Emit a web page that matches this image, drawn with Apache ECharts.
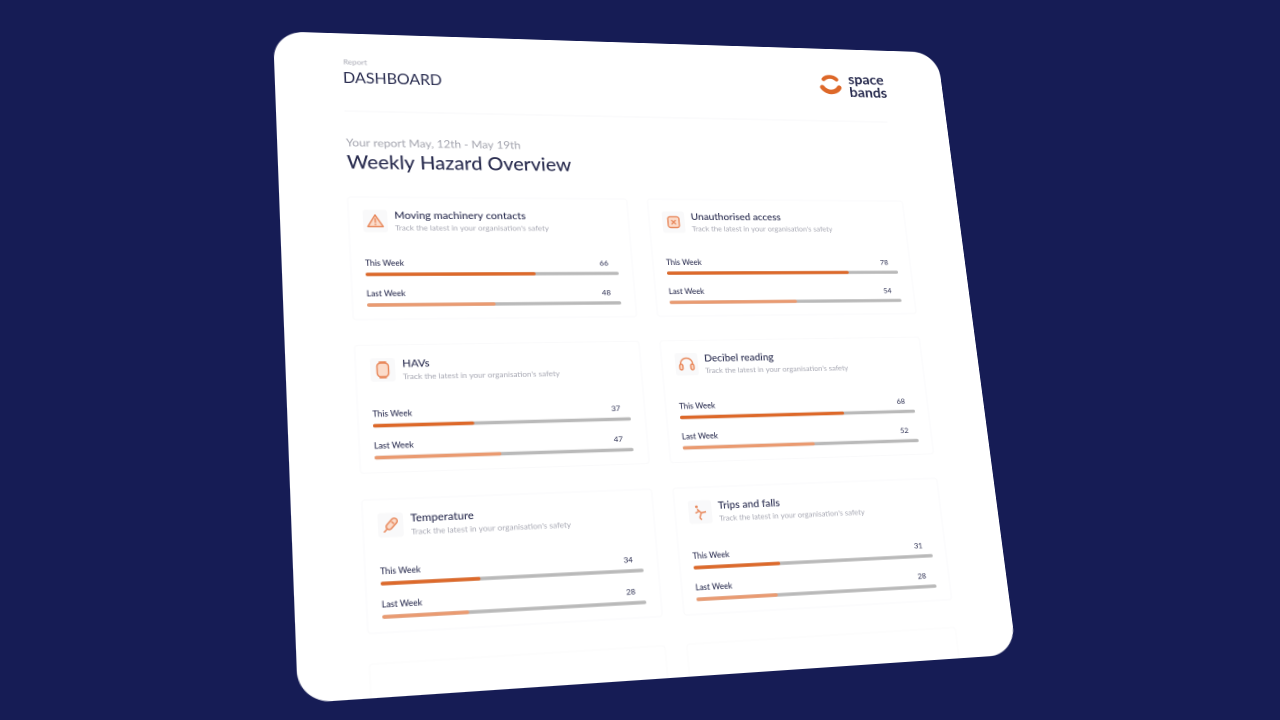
<!DOCTYPE html>
<html><head><meta charset="utf-8">
<style>
html,body{margin:0;padding:0;width:1280px;height:720px;overflow:hidden;background:#161c55}
#chart{position:absolute;left:0;top:0;width:720px;height:680px;transform-origin:0 0;filter:blur(0.5px)}
</style>
<script src="https://cdn.jsdelivr.net/npm/echarts@6/dist/echarts.min.js"></script>
</head><body><div id="chart"></div>
<script>
// ---- data ----
const cardTitles = ["Moving machinery contacts","Unauthorised access","HAVs","Decibel reading","Temperature","Trips and falls"];
const cardSubtitle = "Track the latest in your organisation's safety";
const rowLabels = ["This Week","Last Week"];
const thisWeekValues = [66,78,37,68,34,31];
const lastWeekValues = [48,54,47,52,28,28];
const thisWeekFill = [66.3,78,38.3,69,37,35.3];
const lastWeekFill = [49.6,54,48,55,32,33];
const iconNames = ["warning","cross","watch","phones","thermo","trip"];

// ---- layout (flat sheet, then projected) ----
const W=720,H=680;
const corners=[[273,31.2],[937.3,52.5],[1016.6,654.4],[298,703.4]];
const colX=[80,386], rowY=[261,416.5,572];
const FONT='Lato, "Open Sans", sans-serif';
const INK='#2a2d50', MUTED='#a8a9b4', ORANGE='#dd6829', PEACH='#ea9a70', TRACK='#b9b9b9', ICON='#e8875a';

function project(){
  const [[x0,y0],[x1,y1],[x2,y2],[x3,y3]]=corners;
  const dx1=x1-x2,dx2=x3-x2,sx=x0-x1+x2-x3,dy1=y1-y2,dy2=y3-y2,sy=y0-y1+y2-y3;
  const det=dx1*dy2-dx2*dy1;
  const g=(sx*dy2-dx2*sy)/det,h=(dx1*sy-sx*dy1)/det;
  const a=x1-x0+g*x1,b=x3-x0+h*x3,d=y1-y0+g*y1,e=y3-y0+h*y3;
  return `matrix3d(${a/W},${d/W},0,${g/W},${b/H},${e/H},0,${h/H},0,0,1,0,${x0},${y0},0,1)`;
}
const el=document.getElementById('chart');
el.style.transform=project();

function icon(name){
  const st={stroke:ICON,fill:'#fbdccb',lineWidth:1.4};
  const line={stroke:ICON,fill:'none',lineWidth:1.4,lineCap:'round'};
  const L=(a,b,c,d,s)=>({type:'line',shape:{x1:a,y1:b,x2:c,y2:d},style:s||line});
  if(name==='warning')return [{type:'polygon',shape:{points:[[0,-6.5],[7.5,6],[-7.5,6]]},style:Object.assign({},st,{lineJoin:'round'})},L(0,-2.5,0,1.5),L(0,3.6,0,4)];
  if(name==='cross')return [{type:'rect',shape:{x:-6,y:-6,width:12,height:12,r:2.5},style:st},L(-2,-2,2,2),L(2,-2,-2,2)];
  if(name==='watch')return [{type:'rect',shape:{x:-5.5,y:-7,width:11,height:14,r:3.5},style:st},L(-3,-8,3,-8),L(-3,8,3,8)];
  if(name==='phones')return [{type:'arc',shape:{cx:0,cy:0,r:6.5,startAngle:Math.PI,endAngle:0,clockwise:true},style:line},
    {type:'rect',shape:{x:-7.5,y:0,width:3.4,height:6,r:1.7},style:st},{type:'rect',shape:{x:4.1,y:0,width:3.4,height:6,r:1.7},style:st}];
  if(name==='thermo')return [{type:'group',rotation:-Math.PI/4.2,children:[{type:'rect',shape:{x:-2.8,y:-8,width:5.6,height:13,r:2.8},style:st},L(0,5,0,9),L(-1,-3,1,-3)]}];
  const s={stroke:ICON,lineWidth:1.5};
  return [{type:'circle',shape:{cx:-3.5,cy:-5.5,r:1.4},style:{fill:ICON}},L(-3,-3,1,1,s),L(1,1,6,0,s),L(-1,-1,-5,1,s),L(1,1,-1,6,s),L(-1,6,1,8,s)];
}

const titles=[
  {text:'Report',left:68,top:28,padding:0,textStyle:{fontFamily:FONT,fontSize:8,fontWeight:400,color:'#a8a9b4'}},
  {text:'DASHBOARD',left:67,top:42,padding:0,textStyle:{fontFamily:FONT,fontSize:16,fontWeight:400,color:INK}},
  {text:'Your report May, 12th - May 19th',left:67,top:114.5,padding:0,textStyle:{fontFamily:FONT,fontSize:11.9,fontWeight:400,color:'#a3a4ae'}},
  {text:'Weekly Hazard Overview',left:67,top:132,padding:0,textStyle:{fontFamily:FONT,fontSize:20.3,fontWeight:500,color:INK}},
  {text:'space',left:610,top:27.5,padding:0,textStyle:{fontFamily:FONT,fontSize:16.5,fontWeight:700,color:INK}},
  {text:'bands',left:610,top:43,padding:0,textStyle:{fontFamily:FONT,fontSize:16.5,fontWeight:700,color:INK}}
];
const graphics=[
  {type:'rect',z:0,shape:{x:0,y:0,width:W,height:H,r:30},style:{fill:'#fff'}},
  {type:'line',z:0,shape:{x1:67,y1:86,x2:650,y2:86},style:{stroke:'#f8f8f9',lineWidth:1}},
  {type:'arc',z:1,shape:{cx:589,cy:44,r:10.5,startAngle:Math.PI*1.25,endAngle:Math.PI*1.75,clockwise:true},style:{stroke:ORANGE,fill:'none',lineWidth:4.5,lineCap:'round'}},
  {type:'arc',z:1,shape:{cx:589,cy:40,r:11.5,startAngle:Math.PI*0.18,endAngle:Math.PI*0.82,clockwise:true},style:{stroke:ORANGE,fill:'none',lineWidth:5.5,lineCap:'round'}}
];
const grids=[],xAxes=[],yAxes=[],series=[];
cardTitles.forEach((t,i)=>{
  const cx=colX[i%2], ty=rowY[Math.floor(i/2)];
  graphics.push({type:'rect',z:0,shape:{x:cx-14,y:ty-82,width:284,height:129,r:3},style:{fill:'#fff',stroke:'#fafafb',lineWidth:1}});
  graphics.push({type:'group',z:1,x:cx+12,y:ty-56.5,children:[{type:'rect',shape:{x:-12,y:-12,width:24,height:24,r:3},style:{fill:'#f9f9fa'}}].concat(icon(iconNames[i]))});
  titles.push({text:t,left:cx+31,top:ty-68,padding:0,textStyle:{fontFamily:FONT,fontSize:10.9,fontWeight:500,color:INK}});
  titles.push({text:cardSubtitle,left:cx+31,top:ty-53,padding:0,textStyle:{fontFamily:FONT,fontSize:8.1,fontWeight:400,color:MUTED}});
  grids.push({left:cx,top:ty-16,width:255,height:64,containLabel:false});
  xAxes.push({gridIndex:i,type:'value',min:0,max:100,show:false});
  const base=yAxes.length;
  yAxes.push({gridIndex:i,type:'category',inverse:true,data:rowLabels,axisLine:{show:false},axisTick:{show:false},
    axisLabel:{inside:true,margin:0,align:'left',verticalAlign:'bottom',padding:[0,0,7.5,0],fontFamily:FONT,fontSize:8.2,fontWeight:500,color:INK}});
  yAxes.push({gridIndex:i,type:'category',position:'right',inverse:true,data:[String(thisWeekValues[i]),String(lastWeekValues[i])],axisLine:{show:false},axisTick:{show:false},
    axisLabel:{inside:true,margin:10,align:'right',verticalAlign:'bottom',padding:[0,0,7,0],fontFamily:FONT,fontSize:8,fontWeight:400,color:INK}});
  series.push({type:'bar',name:t,xAxisIndex:i,yAxisIndex:base,barWidth:3.6,silent:true,
    showBackground:true,backgroundStyle:{color:TRACK,borderRadius:2},
    itemStyle:{borderRadius:2},
    data:[{value:thisWeekFill[i],itemStyle:{color:ORANGE}},{value:lastWeekFill[i],itemStyle:{color:PEACH}}]});
});
// faint start of the next row of cards, cut by the sheet edge
colX.forEach(cx=>graphics.push({type:'rect',z:0,shape:{x:cx-14,y:648,width:284,height:80,r:3},style:{fill:'#fff',stroke:'#fbfbfc',lineWidth:1}}));

const chart=echarts.init(el,null,{renderer:'canvas',devicePixelRatio:2,width:W,height:H});
chart.setOption({animation:false,backgroundColor:'transparent',title:titles,graphic:graphics,grid:grids,xAxis:xAxes,yAxis:yAxes,series:series});
</script></body></html>
